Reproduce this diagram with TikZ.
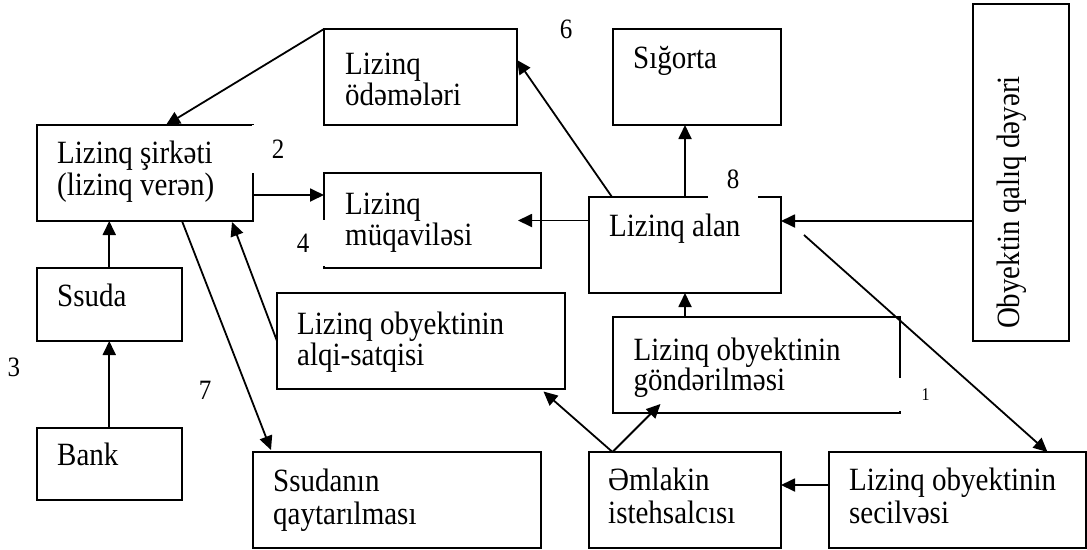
\documentclass[tikz,border=0pt]{standalone}
\usepackage{fontspec}
\setmainfont{Liberation Serif}
\usetikzlibrary{arrows.meta,calc}
\newcommand\stt[1]{\scalebox{1}[1.12]{#1}}
\newcommand\twol[3]{\scalebox{1}[1.12]{\vtop{\baselineskip=#3\lineskiplimit=-100pt\hbox{#1}\hbox{#2}}}}
\begin{document}
\begin{tikzpicture}[x=1pt,y=-1pt,
  box/.style={draw,line width=2pt,anchor=north west,inner sep=0pt,outer sep=0pt},
  lbl/.style={anchor=base west,inner sep=0pt,font=\fontsize{29}{29}\selectfont},
  num/.style={fill=white,inner sep=0pt,font=\fontsize{25}{25}\selectfont},
  arr/.style={line width=1.8pt,-{Triangle[length=14pt,width=13pt]}}]
\useasboundingbox[fill=white] (0,0) rectangle (1087,549);
\begin{scope}
\clip (0,0) rectangle (1087,549);
% boxes
\node[box,minimum width=216pt,minimum height=96pt] (sirketi) at (37,125) {};
\node[box,minimum width=193pt,minimum height=96pt] (odeme) at (324,29) {};
\node[box,minimum width=217pt,minimum height=95pt] (muqavile) at (324,173) {};
\node[box,minimum width=168.5pt,minimum height=96pt] (sigorta) at (612.5,29) {};
\node[box,minimum width=96.5pt,minimum height=337pt] (qaliq) at (972.5,4) {};
\node[box,minimum width=192pt,minimum height=96pt] (alan) at (589,197) {};
\node[box,minimum width=287.5pt,minimum height=96pt] (gonder) at (612.5,317) {};
\node[box,minimum width=192pt,minimum height=96pt] (emlak) at (589,452) {};
\node[box,minimum width=256.5pt,minimum height=96pt] (secil) at (829,452) {};
\node[box,minimum width=144.5pt,minimum height=73pt] (ssuda) at (37,268) {};
\node[box,minimum width=144.5pt,minimum height=72pt] (bank) at (37,428) {};
\node[box,minimum width=288pt,minimum height=96pt] (alqi) at (277,293) {};
\node[box,minimum width=288pt,minimum height=96pt] (qaytar) at (253,452) {};
% labels
\node[lbl] (t-sirketi) at ([xshift=20pt,yshift=-38.5pt]sirketi.north west) {\twol{Lizinq şirkəti}{(lizinq verən)}{29pt}};
\node[lbl] (t-odeme) at ([xshift=21pt,yshift=-45pt]odeme.north west) {\twol{Lizinq}{ödəmələri}{28.5pt}};
\node[lbl] (t-muqavile) at ([xshift=21pt,yshift=-41pt]muqavile.north west) {\twol{Lizinq}{müqaviləsi}{28.5pt}};
\node[lbl] (t-sigorta) at ([xshift=20.5pt,yshift=-39.5pt]sigorta.north west) {\stt{Sığorta}};
\node[lbl] (t-alan) at ([xshift=20pt,yshift=-39.5pt]alan.north west) {\stt{Lizinq alan}};
\node[lbl] (t-gonder) at ([xshift=21pt,yshift=-43pt]gonder.north west) {\twol{Lizinq obyektinin}{göndərilməsi}{27pt}};
\node[lbl] (t-emlak) at ([xshift=19pt,yshift=-38pt]emlak.north west) {\twol{Əmlakin}{istehsalcısı}{29.5pt}};
\node[lbl] (t-secil) at ([xshift=20pt,yshift=-38pt]secil.north west) {\twol{Lizinq obyektinin}{secilvəsi}{29.5pt}};
\node[lbl] (t-ssuda) at ([xshift=20pt,yshift=-38.5pt]ssuda.north west) {\stt{Ssuda}};
\node[lbl] (t-bank) at ([xshift=20pt,yshift=-37pt]bank.north west) {\stt{Bank}};
\node[lbl] (t-alqi) at ([xshift=20pt,yshift=-41pt]alqi.north west) {\twol{Lizinq obyektinin}{alqi-satqisi}{28.5pt}};
\node[lbl] (t-qaytar) at ([xshift=20pt,yshift=-39pt]qaytar.north west) {\twol{Ssudanın}{qaytarılması}{29.5pt}};
\node[rotate=90,anchor=base,inner sep=0pt,font=\fontsize{29}{29}\selectfont] (t-qaliq) at (1019,202.5) {\stt{Obyektin qalıq dəyəri}};
% connectors
\draw[arr] (odeme.north west) -- ([xshift=129pt]sirketi.north west);
\draw[arr] ([yshift=-22pt]sirketi.east) -- ([yshift=-22pt]sirketi.east -| muqavile.west);
\coordinate (muqIn) at ([xshift=-23pt]muqavile.east);
\draw[arr] (alan.west |- muqIn) -- (muqIn);
\draw[arr] ([xshift=23pt]alan.north west) -- ([yshift=17pt]odeme.east);
\draw[arr] (alan.north) -- (alan.north |- sigorta.south);
\coordinate (alanR) at ([yshift=24pt]alan.east);
\draw[arr] (qaliq.west |- alanR) -- (alanR);
\coordinate (free1) at (804,235);
\draw[arr] (free1) -- ([xshift=218.5pt]secil.north west);
\draw[arr] (alan.south |- gonder.north) -- (alan.south);
\coordinate (emlakTop) at ([xshift=23.5pt]emlak.north west);
\coordinate (gonderIn) at ([xshift=48pt,yshift=9pt]gonder.south west);
\draw[arr] (emlakTop) -- (gonderIn);
\coordinate (alqiOut) at ([xshift=-21.5pt,yshift=-2.5pt]alqi.south east);
\draw[arr] (emlakTop) -- (alqiOut);
\draw[arr] ([yshift=15pt]secil.west) -- ([yshift=15pt]emlak.east);
\draw[arr] (bank.north) -- (ssuda.south);
\draw[arr] (ssuda.north) -- (ssuda.north |- sirketi.south);
\draw[arr] (alqi.west) -- ([xshift=195pt,yshift=-1pt]sirketi.south west);
\draw[arr] ([xshift=145pt]sirketi.south west) -- ([xshift=18pt,yshift=2pt]qaytar.north west);
% numbers (white backgrounds hide parts of box borders as in the original)
\node[num,minimum width=53pt,minimum height=48pt] (n2) at (278,149) {\stt{2}};
\node[num,minimum width=44pt,minimum height=46pt] (n4) at (303,243) {\stt{4}};
\node[num] (n6) at (566,29) {\stt{6}};
\node[num,minimum width=50.5pt,minimum height=38pt] (n8) at (733,179) {\stt{8}};
\node[num] (n3) at (14,367) {\stt{3}};
\node[num] (n7) at (205,390) {\stt{7}};
\node[num,minimum width=53pt,minimum height=33.5pt,font=\fontsize{16}{16}\selectfont] (n1) at (925.5,394.5) {\stt{1}};
\end{scope}
\end{tikzpicture}
\end{document}
